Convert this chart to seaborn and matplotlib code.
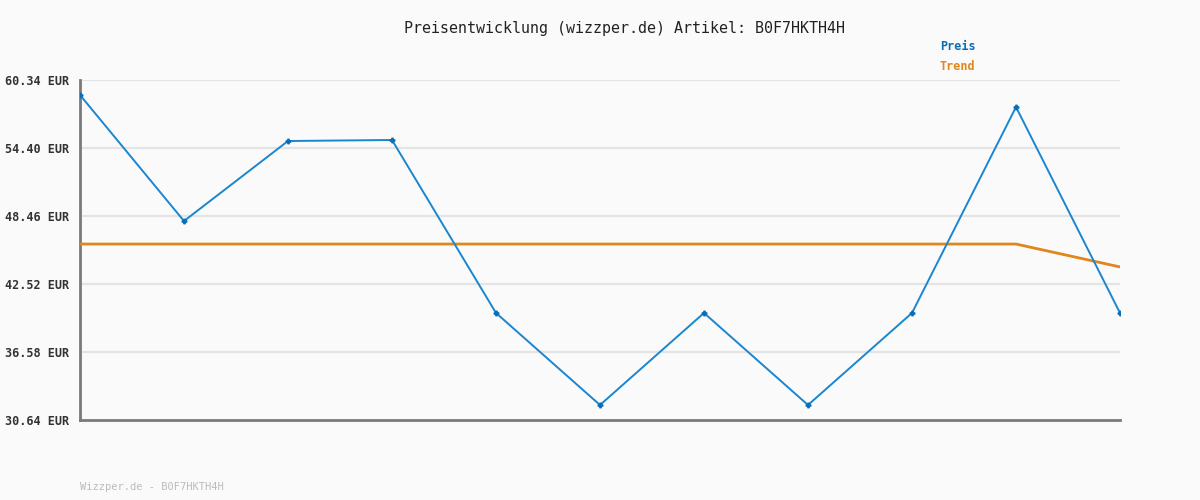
import matplotlib
matplotlib.use('Agg')
import matplotlib.pyplot as plt
import seaborn as sns
import pandas as pd
import numpy as np

# ============================================================
# Data
# ============================================================
points = list(range(11))
preis = [59.03, 48.02, 55.01, 55.10, 39.99, 31.95, 39.99, 31.95, 39.99, 57.98, 39.99]
trend = [46.01, 46.01, 46.01, 46.01, 46.01, 46.01, 46.01, 46.01, 46.01, 46.01, 44.01]
y_ticks = [30.64, 36.58, 42.52, 48.46, 54.40, 60.34]
article = 'B0F7HKTH4H'

BLUE = '#1a86d0'
BLUE_DARK = '#0b6db5'
ORANGE = '#e0861a'
BG = '#fafafa'
FONT = 'DejaVu Sans Mono'

sns.set_style('white')
plt.rcParams['font.family'] = [FONT]

df = pd.DataFrame({'point': points, 'Preis': preis, 'Trend': trend})

fig = plt.figure(figsize=(12, 5), dpi=100, facecolor=BG)
ax = fig.add_axes([80 / 1200, 80 / 500, 1040 / 1200, 340 / 500])
ax.set_facecolor(BG)

sns.lineplot(data=df, x='point', y='Trend', ax=ax, color=ORANGE, linewidth=2, zorder=3)
sns.lineplot(data=df, x='point', y='Preis', ax=ax, color=BLUE, linewidth=1.4,
             marker='P', markersize=3.5, markerfacecolor=BLUE_DARK,
             markeredgecolor=BLUE_DARK, zorder=4)

ax.set_xlim(0, 10)
ax.set_ylim(y_ticks[0], y_ticks[-1])
ax.set_xticks([])
ax.set_yticks(y_ticks)
ax.set_yticklabels([f'{v:.2f} EUR' for v in y_ticks], fontsize=8.5,
                   fontweight='bold', color='#333333')
ax.tick_params(axis='y', length=0, pad=8)
ax.set_xlabel('')
ax.set_ylabel('')

for v in y_ticks[1:]:
    ax.axhline(v, color='#e4e4e4', linewidth=1.6, zorder=1)

for side in ['top', 'right']:
    ax.spines[side].set_visible(False)
for side in ['left', 'bottom']:
    ax.spines[side].set_color('#7a7a7a')
    ax.spines[side].set_linewidth(2)

fig.text(624 / 1200, 1 - 28 / 500, f'Preisentwicklung (wizzper.de) Artikel: {article}',
         ha='center', va='center', fontsize=10.8, color='#222222')
fig.text(940 / 1200, 1 - 47 / 500, 'Preis', ha='left', va='center',
         fontsize=8.5, fontweight='bold', color=BLUE_DARK)
fig.text(940 / 1200, 1 - 67 / 500, 'Trend', ha='left', va='center',
         fontsize=8.5, fontweight='bold', color=ORANGE)
fig.text(80 / 1200, 1 - 487 / 500, f'Wizzper.de - {article}', ha='left', va='center',
         fontsize=7.5, color='#bbbbbb')

fig.savefig('out.png', dpi=100, facecolor=BG)
